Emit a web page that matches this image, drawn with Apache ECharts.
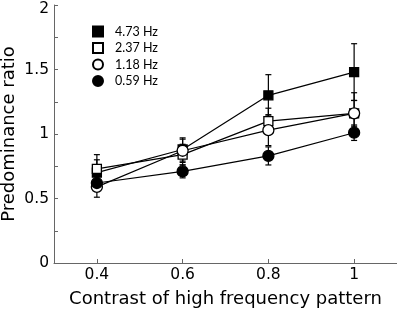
<!DOCTYPE html>
<html>
<head>
<meta charset="utf-8">
<script src="https://cdn.jsdelivr.net/npm/echarts@6/dist/echarts.min.js"></script>
<style>
  html, body { margin: 0; padding: 0; background: #fff; }
  #chart { width: 397px; height: 309px; }
</style>
</head>
<body>
<div id="chart"></div>
<script>
const contrasts = [0.4, 0.6, 0.8, 1.0];
const seriesNames = ['4.73 Hz', '2.37 Hz', '1.18 Hz', '0.59 Hz'];
const hz473 = [0.70, 0.88, 1.30, 1.48];
const hz237 = [0.73, 0.84, 1.10, 1.16];
const hz118 = [0.59, 0.87, 1.03, 1.16];
const hz059 = [0.62, 0.71, 0.83, 1.01];
const err473 = [0.10, 0.09, 0.16, 0.22];
const err237 = [0.11, 0.08, 0.10, 0.16];
const err118 = [0.08, 0.09, 0.12, 0.10];
const err059 = [0.06, 0.05, 0.07, 0.06];
const xTicks = [0.4, 0.6, 0.8, 1.0];
const yTicks = [0, 0.25, 0.5, 0.75, 1, 1.25, 1.5, 1.75, 2];
const yLabels = [0, 0.5, 1, 1.5, 2];

const chart = echarts.init(document.getElementById('chart'));

const styles = [
  { symbol: 'rect', fill: '#000', size: 9 },
  { symbol: 'rect', fill: '#fff', size: 9 },
  { symbol: 'circle', fill: '#fff', size: 11 },
  { symbol: 'circle', fill: '#000', size: 11 },
];
const values = [hz473, hz237, hz118, hz059];
const errors = [err473, err237, err118, err059];

const errorSeries = values.map((vals, s) => ({
  type: 'custom',
  silent: true,
  z: 1,
  data: contrasts.map((c, i) => [c, vals[i] - errors[s][i], vals[i] + errors[s][i]]),
  renderItem: (params, api) => {
    const lo = api.coord([api.value(0), api.value(1)]);
    const hi = api.coord([api.value(0), api.value(2)]);
    const cap = 3;
    const style = { stroke: '#000', lineWidth: 1.2 };
    return {
      type: 'group',
      children: [
        { type: 'line', shape: { x1: lo[0], y1: lo[1], x2: hi[0], y2: hi[1] }, style },
        { type: 'line', shape: { x1: lo[0] - cap, y1: lo[1], x2: lo[0] + cap, y2: lo[1] }, style },
        { type: 'line', shape: { x1: hi[0] - cap, y1: hi[1], x2: hi[0] + cap, y2: hi[1] }, style },
      ],
    };
  },
}));

const lineSeries = values.map((vals, s) => ({
  name: seriesNames[s],
  type: 'line',
  z: 3 + s,
  data: contrasts.map((c, i) => [c, vals[i]]),
  symbol: styles[s].symbol,
  symbolSize: styles[s].size,
  showAllSymbol: true,
  lineStyle: { color: '#000', width: 1.2 },
  itemStyle: { color: styles[s].fill, borderColor: '#000', borderWidth: 1.3 },
  emphasis: { disabled: true },
  animation: false,
}));

const tickFont = { fontFamily: 'DejaVu Sans', fontSize: 15.5, color: '#000' };
const titleFont = { fontFamily: 'DejaVu Sans', fontSize: 18, color: '#000' };

const option = {
  animation: false,
  grid: { left: 54, right: 0, top: 5, bottom: 46, outerBoundsMode: 'none', containLabel: false },
  legend: {
    orient: 'vertical',
    left: 87,
    top: 20,
    itemWidth: 10,
    itemHeight: 10,
    itemGap: 3.5,
    selectedMode: false,
    data: seriesNames.map((n, s) => ({ name: n, icon: styles[s].symbol })),
    textStyle: { fontFamily: 'Lato', fontSize: 12.5, color: '#000', padding: [0, 0, 0, 7] },
  },
  xAxis: {
    type: 'value',
    min: 0.3,
    max: 1.1,
    axisLine: { lineStyle: { color: '#666', width: 1 } },
    axisTick: { inside: true, length: 4, customValues: xTicks, lineStyle: { color: '#666' } },
    axisLabel: {
      customValues: xTicks,
      margin: 4,
      ...tickFont,
      formatter: (v) => String(+v.toFixed(1)),
    },
    splitLine: { show: false },
    name: 'Contrast of high frequency pattern',
    nameLocation: 'middle',
    nameGap: 27,
    nameTextStyle: titleFont,
  },
  yAxis: {
    type: 'value',
    min: 0,
    max: 2,
    axisLine: { show: true, lineStyle: { color: '#666', width: 1 } },
    axisTick: { show: true, inside: true, length: 4, customValues: yTicks, lineStyle: { color: '#666' } },
    axisLabel: {
      customValues: yLabels,
      margin: 5,
      ...tickFont,
      formatter: (v) => (v === 2 ? '{top|2}' : String(+v.toFixed(1))),
      rich: { top: { ...tickFont, padding: [7, 0, 0, 0] } },
    },
    splitLine: { show: false },
    name: 'Predominance ratio',
    nameLocation: 'middle',
    nameGap: 36,
    nameMoveOverlap: false,
    nameTextStyle: titleFont,
  },
  series: [...errorSeries, ...lineSeries],
};

chart.setOption(option);
</script>
</body>
</html>
